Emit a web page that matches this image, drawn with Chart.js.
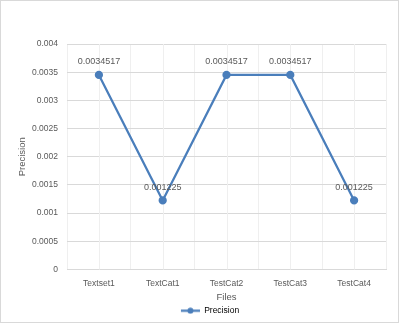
<!DOCTYPE html>
<html><head><meta charset="utf-8">
<script src="https://cdn.jsdelivr.net/npm/chart.js@4/dist/chart.umd.min.js"></script>
<style>
html,body{margin:0;padding:0;background:#fff;}
#wrap{position:absolute;left:0;top:0;width:397px;height:321px;border:1px solid #d9d9d9;}
canvas{display:block;}
</style></head><body>
<div id="wrap"><canvas id="c" width="397" height="321"></canvas></div>
<script>
const categories = ["Textset1","TextCat1","TestCat2","TestCat3","TestCat4"];
const precision = [0.0034517, 0.001225, 0.0034517, 0.0034517, 0.001225];
const pointLabels = ["0.0034517","0.001225","0.0034517","0.0034517","0.001225"];
const yTickLabels = ["0","0.0005","0.001","0.0015","0.002","0.0025","0.003","0.0035","0.004"];

const FONT = "'Liberation Sans', Arial, sans-serif";
const TXT = "#595959";
const LINE = "#4a7ebb";
const VGRID = "#efefef";

// legend marker: line with a dot (right part of a 36px-wide image)
const mk = document.createElement('canvas');
mk.width = 36; mk.height = 7;
(function(){
  const g = mk.getContext('2d');
  g.strokeStyle = LINE; g.lineWidth = 2.25;
  g.beginPath(); g.moveTo(17,3.5); g.lineTo(36,3.5); g.stroke();
  g.fillStyle = LINE; g.beginPath(); g.arc(26.5,3.5,3,0,Math.PI*2); g.fill();
})();

const labelPlugin = {
  id:'dl',
  beforeDatasetsDraw(chart){
    const ctx = chart.ctx, xs = chart.scales.x, area = chart.chartArea;
    ctx.save();
    ctx.strokeStyle = VGRID; ctx.lineWidth = 1;
    categories.forEach((c,i)=>{
      const x = Math.round(xs.getPixelForValue(i)) + 0.5;
      ctx.beginPath(); ctx.moveTo(x, area.top); ctx.lineTo(x, area.bottom); ctx.stroke();
    });
    ctx.restore();
  },
  afterDatasetsDraw(chart){
    const ctx = chart.ctx;
    const meta = chart.getDatasetMeta(0);
    ctx.save();
    ctx.font = "9px " + FONT;
    ctx.fillStyle = TXT;
    ctx.textAlign = "center";
    ctx.textBaseline = "middle";
    meta.data.forEach((pt,i)=>{
      ctx.fillText(pointLabels[i], pt.x, pt.y - 13);
    });
    ctx.restore();
  }
};

new Chart(document.getElementById('c'), {
  type:'line',
  data:{labels:categories, datasets:[{
    label:'Precision', data:precision, borderColor:LINE, backgroundColor:LINE,
    borderWidth:2.25, pointRadius:3, pointHoverRadius:3, pointBackgroundColor:LINE, pointBorderColor:LINE, tension:0,
    pointStyle:'circle'
  }]},
  options:{
    responsive:false, animation:false,
    layout:{padding:{left:16,right:12,top:43,bottom:-3}},
    plugins:{
      legend:{position:'bottom', labels:{font:{family:FONT,size:8.5}, color:TXT, usePointStyle:true, pointStyleWidth:36, padding:3,
        generateLabels(chart){ return [{text:'Precision', fillStyle:LINE, strokeStyle:LINE, lineWidth:0, pointStyle:mk}]; }}},
      tooltip:{enabled:false}
    },
    scales:{
      x:{offset:true,
        afterFit(s){ s.height = 34; },
        grid:{offset:true, color:VGRID, drawTicks:false},
        border:{color:'#d9d9d9'},
        ticks:{font:{family:FONT,size:8.5}, color:TXT, padding:9},
        title:{display:true, text:'Files', font:{family:FONT,size:9.5}, color:TXT, padding:{top:0,bottom:0}}
      },
      y:{min:0, max:0.004,
        afterFit(s){ s.width = 50; },
        grid:{color:'#d9d9d9', drawTicks:false},
        border:{display:false},
        ticks:{stepSize:0.0005, font:{family:FONT,size:8.5}, color:TXT, padding:9,
          callback:(v,i)=> yTickLabels[i]},
        title:{display:true, text:'Precision', font:{family:FONT,size:9.5}, color:TXT, padding:{top:0,bottom:0}}
      }
    }
  },
  plugins:[labelPlugin]
});
</script>
</body></html>
